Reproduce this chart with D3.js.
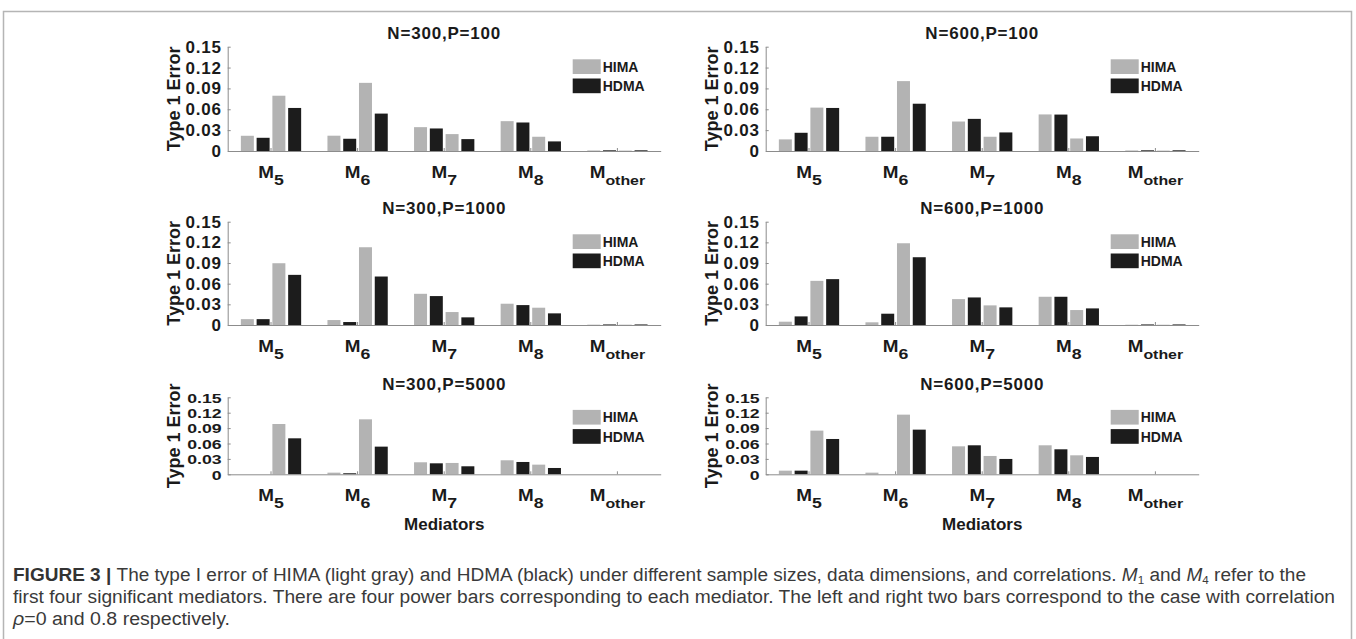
<!DOCTYPE html>
<html>
<head>
<meta charset="utf-8">
<script src="https://cdn.jsdelivr.net/npm/d3@7"></script>
<style>
  html, body { margin: 0; padding: 0; background: #fff; }
  svg { display: block; }
  .bold { font-family: "Liberation Sans", Arial, sans-serif; font-weight: bold; fill: #1a1a1a; }
  .cap { font-family: "Liberation Sans Narrow", "Liberation Sans", Arial, sans-serif; fill: #3a3a3a; }
</style>
</head>
<body>
<svg id="chart" width="1356" height="639"></svg>
<script>
// ---------------- data ----------------
const categories = ["5", "6", "7", "8", "other"];
const barSeries = ["HIMA_rho0", "HDMA_rho0", "HIMA_rho08", "HDMA_rho08"];
const legendLabels = ["HIMA", "HDMA"];
const yTicks = [0, 0.03, 0.06, 0.09, 0.12, 0.15];
const panelTitles = ["N=300,P=100", "N=600,P=100", "N=300,P=1000", "N=600,P=1000", "N=300,P=5000", "N=600,P=5000"];

// values per mediator: [HIMA rho=0, HDMA rho=0, HIMA rho=0.8, HDMA rho=0.8]
const n300p100 = [
  [0.0219, 0.0190, 0.0795, 0.0619],
  [0.0220, 0.0176, 0.0980, 0.0538],
  [0.0343, 0.0324, 0.0243, 0.0171],
  [0.0429, 0.0410, 0.0205, 0.0138],
  [0.0008, 0.0010, 0.0006, 0.0010]
];
const n600p100 = [
  [0.0167, 0.0262, 0.0624, 0.0619],
  [0.0205, 0.0205, 0.1005, 0.0680],
  [0.0424, 0.0462, 0.0205, 0.0267],
  [0.0526, 0.0524, 0.0180, 0.0212],
  [0.0008, 0.0010, 0.0006, 0.0010]
];
const n300p1000 = [
  [0.0085, 0.0085, 0.0897, 0.0728],
  [0.0072, 0.0043, 0.1129, 0.0704],
  [0.0453, 0.0420, 0.0188, 0.0111],
  [0.0309, 0.0289, 0.0251, 0.0169],
  [0.0005, 0.0008, 0.0005, 0.0008]
];
const n600p1000 = [
  [0.0048, 0.0125, 0.0641, 0.0666],
  [0.0039, 0.0164, 0.1187, 0.0984],
  [0.0376, 0.0400, 0.0285, 0.0256],
  [0.0410, 0.0410, 0.0217, 0.0241],
  [0.0004, 0.0008, 0.0004, 0.0008]
];
const n300p5000 = [
  [0.0000, 0.0000, 0.0980, 0.0701],
  [0.0032, 0.0020, 0.1071, 0.0539],
  [0.0234, 0.0214, 0.0221, 0.0156],
  [0.0273, 0.0240, 0.0188, 0.0123],
  [0.0000, 0.0000, 0.0000, 0.0000]
];
const n600p5000 = [
  [0.0071, 0.0071, 0.0851, 0.0688],
  [0.0032, 0.0000, 0.1162, 0.0870],
  [0.0545, 0.0565, 0.0357, 0.0299],
  [0.0565, 0.0487, 0.0370, 0.0338],
  [0.0000, 0.0000, 0.0000, 0.0000]
];
const panelData = [n300p100, n600p100, n300p1000, n600p1000, n300p5000, n600p5000];

const xAxisTitle = "Mediators";
const yAxisTitle = "Type 1 Error";

// ---------------- layout ----------------
const colors = { HIMA: "#b3b3b3", HDMA: "#1c1c1c" };
const barColor = s => s.startsWith("HIMA") ? colors.HIMA : colors.HDMA;
const colX = [227.7, 765.7];
const axisW = 433;
const rows = [ { top: 46.7, bottom: 151 }, { top: 221.7, bottom: 325 }, { top: 397.3, bottom: 474.3 } ];
const axisColor = "#8c8c8c";

const svg = d3.select("#chart");

// frame
svg.append("path")
  .attr("d", "M3.5,639 V11.5 H1351.5 V639")
  .attr("fill", "none").attr("stroke", "#b5b5b5").attr("stroke-width", 1.5);

panelData.forEach((data, i) => {
  const col = i % 2, row = Math.floor(i / 2);
  const x0 = colX[col];
  const { top, bottom } = rows[row];
  const g = svg.append("g");

  const x = d3.scaleBand().domain(categories).range([x0, x0 + axisW]).padding(0);
  const inner = d3.scaleBand().domain(barSeries)
    .range([x.bandwidth() / 2 - 30.15, x.bandwidth() / 2 + 30.15])
    .paddingInner(0.176).paddingOuter(0);
  const y = d3.scaleLinear().domain([0, 0.15]).range([bottom, top]);

  // bars
  categories.forEach((c, ci) => {
    g.selectAll(null).data(barSeries.map((s, si) => ({ s, v: data[ci][si] })))
      .join("rect")
      .attr("x", d => x(c) + inner(d.s))
      .attr("y", d => y(d.v))
      .attr("width", inner.bandwidth())
      .attr("height", d => y(0) - y(d.v))
      .attr("fill", d => barColor(d.s));
  });

  // y axis
  const ya = g.append("g").attr("transform", `translate(${x0},0)`)
    .call(d3.axisLeft(y).tickValues(yTicks)
      .tickFormat(d => d === 0 ? "0" : d3.format(".2f")(d))
      .tickSizeInner(-3).tickSizeOuter(0).tickPadding(6));
  ya.select(".domain").attr("stroke", axisColor);
  ya.selectAll(".tick line").attr("stroke", axisColor);
  const tt = ya.selectAll(".tick text").attr("class", "bold").attr("fill", "#1a1a1a");
  if (row < 2) {
    tt.style("font-size", "17px").style("letter-spacing", "0.8px");
  } else {
    // compact row: smaller glyphs, stretched horizontally to keep the width
    tt.style("font-size", "13.4px").attr("x", 0).attr("dy", "0.36em")
      .attr("transform", "translate(-6,0) scale(1.32,1)");
  }

  // x axis
  const xa = g.append("g").attr("transform", `translate(0,${bottom})`)
    .call(d3.axisBottom(x).tickFormat("").tickSizeInner(-3).tickSizeOuter(0));
  xa.select(".domain").attr("stroke", axisColor);
  xa.selectAll(".tick line").attr("stroke", axisColor);

  // x tick labels (M with subscript)
  categories.forEach(c => {
    const t = g.append("text").attr("class", "bold")
      .attr("transform", `translate(${x(c) + x.bandwidth() / 2},${bottom + 27}) scale(1.18,1)`)
      .attr("text-anchor", "middle");
    t.append("tspan").style("font-size", "16px").text("M");
    t.append("tspan").style("font-size", c === "other" ? "13.5px" : "15px")
      .attr("dy", 7).text(c);
  });

  // title
  g.append("text").attr("class", "bold")
    .attr("x", x0 + axisW / 2).attr("y", top - 7.5)
    .attr("text-anchor", "middle").style("font-size", "17px").style("letter-spacing", "0.8px")
    .text(panelTitles[i]);

  // y title
  g.append("text").attr("class", "bold")
    .attr("transform", `translate(${x0 - 48},${(top + bottom) / 2}) rotate(-90)`)
    .attr("text-anchor", "middle").style("font-size", "18px")
    .text(yAxisTitle);

  // legend
  legendLabels.forEach((lab, li) => {
    const ly = top + 12.6 + li * 19.2;
    g.append("rect").attr("x", x0 + 345).attr("y", ly)
      .attr("width", 28).attr("height", 14.7)
      .attr("fill", lab === "HIMA" ? colors.HIMA : colors.HDMA);
    g.append("text").attr("class", "bold")
      .attr("x", x0 + 375).attr("y", ly + 12.5)
      .style("font-size", "14px").text(lab);
  });

  // x axis title on bottom row
  if (row === 2) {
    g.append("text").attr("class", "bold")
      .attr("x", x0 + axisW / 2).attr("y", 530)
      .attr("text-anchor", "middle").style("font-size", "17px")
      .text(xAxisTitle);
  }
});

// caption
const cap = svg.append("g").attr("class", "cap").style("font-size", "18px");
const l1 = cap.append("text").attr("x", 13).attr("y", 581)
  .attr("textLength", 1293).attr("lengthAdjust", "spacingAndGlyphs");
l1.append("tspan").style("font-weight", "bold").attr("fill", "#333").text("FIGURE 3 | ");
l1.append("tspan").text("The type I error of HIMA (light gray) and HDMA (black) under different sample sizes, data dimensions, and correlations. ");
l1.append("tspan").style("font-style", "italic").text("M");
l1.append("tspan").attr("dy", 3).style("font-size", "11px").text("1");
l1.append("tspan").attr("dy", -3).text(" and ");
l1.append("tspan").style("font-style", "italic").text("M");
l1.append("tspan").attr("dy", 3).style("font-size", "11px").text("4");
l1.append("tspan").attr("dy", -3).text(" refer to the");

cap.append("text").attr("x", 13).attr("y", 603)
  .attr("textLength", 1322).attr("lengthAdjust", "spacingAndGlyphs")
  .text("first four significant mediators. There are four power bars corresponding to each mediator. The left and right two bars correspond to the case with correlation");

const l3 = cap.append("text").attr("x", 13).attr("y", 625)
  .attr("textLength", 217).attr("lengthAdjust", "spacingAndGlyphs");
l3.append("tspan").style("font-style", "italic").text("ρ");
l3.append("tspan").text("=0 and 0.8 respectively.");
</script>
</body>
</html>
